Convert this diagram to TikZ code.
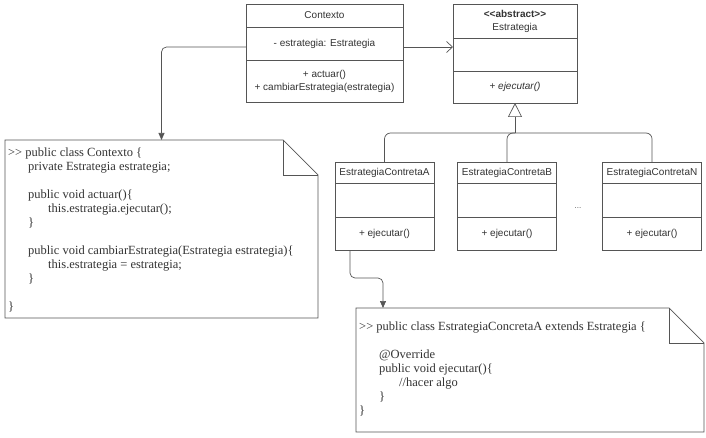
\documentclass[tikz,border=0pt]{standalone}
\usepackage{fontspec}
\setmainfont{Liberation Serif}
\setsansfont{Liberation Sans}
\usetikzlibrary{arrows.meta,positioning}
\definecolor{linegray}{HTML}{555555}
\definecolor{txtgray}{HTML}{333333}

\begin{document}
\begin{tikzpicture}[x=1pt,y=-1pt,
	cls/.style={draw=linegray, line width=0.8pt, fill=white, inner sep=0pt, outer sep=0pt, align=center, text=txtgray, font=\sffamily\fontsize{10}{13}\selectfont},
	note/.style={inner sep=0pt, outer sep=0pt, anchor=north west},
	code/.style={inner sep=0pt, anchor=north west, align=left, text=txtgray, font=\rmfamily\fontsize{12.5}{14}\selectfont},
	line/.style={draw=linegray, line width=0.7pt},
	dep/.style={line, rounded corners=5pt, -{Triangle[length=7pt,width=6pt]}},
	assoc/.style={line, -{Straight Barb[length=6pt,width=11pt]}},
	gen/.style={line, -{Triangle[open,length=14pt,width=14pt,fill=white]}}]

	\useasboundingbox (0,0) rectangle (706,438);

	% clases
	\node[cls, minimum width=157pt, minimum height=23pt, anchor=north] (ctx1) at (324.5,4) {Contexto};
	\node[cls, minimum width=157pt, minimum height=33pt, below=0pt of ctx1] (ctx2) {- estrategia: Estrategia};
	\node[cls, minimum width=157pt, minimum height=42pt, below=0pt of ctx2] (ctx3) {+ actuar()\\+ cambiarEstrategia(estrategia)};

	\node[cls, minimum width=124pt, minimum height=34pt, anchor=north] (est1) at (515,4) {\textbf{<{}<abstract>{}>}\\Estrategia};
	\node[cls, minimum width=124pt, minimum height=33pt, below=0pt of est1] (est2) {};
	\node[cls, minimum width=124pt, minimum height=32pt, below=0pt of est2] (est3) {+ \textit{ejecutar()}};

	\foreach \n/\x in {A/384.5, B/507, N/652}{
		\node[cls, minimum width=99pt, minimum height=21pt, anchor=north] (\n1) at (\x,162) {EstrategiaContreta\n};
		\node[cls, minimum width=99pt, minimum height=34pt, below=0pt of \n1] (\n2) {};
		\node[cls, minimum width=99pt, minimum height=33pt, below=0pt of \n2] (\n3) {+ ejecutar()};
	}
	\node[text=linegray, font=\sffamily\fontsize{8}{8}\selectfont] (dots) at (578,208) {...};

	% notas
	\node[note, minimum width=313pt, minimum height=178pt] (note1) at (5,140) {};
	\node[note, minimum width=348pt, minimum height=124pt] (note2) at (356,308) {};
	\foreach \n in {note1, note2}{
		\draw[line, fill=white] (\n.south west) -- (\n.north west) -- ([xshift=-35pt]\n.north east) -- ([yshift=-35pt]\n.north east) -- (\n.south east) -- cycle;
		\draw[line] ([xshift=-35pt]\n.north east) |- ([yshift=-35pt]\n.north east);
	}
	\node[code] (code1) at ([shift={(3pt,-8pt)}]note1.north west) {>{}> public class Contexto \{\\
		\hspace*{20pt}private Estrategia estrategia;\\[14pt]
		\hspace*{20pt}public void actuar()\{\\
		\hspace*{40pt}this.estrategia.ejecutar();\\
		\hspace*{20pt}\}\\[14pt]
		\hspace*{20pt}public void cambiarEstrategia(Estrategia estrategia)\{\\
		\hspace*{40pt}this.estrategia = estrategia;\\
		\hspace*{20pt}\}\\[14pt]
		\}};
	\node[code] (code2) at ([shift={(3pt,-14pt)}]note2.north west) {>{}> public class EstrategiaConcretaA extends Estrategia \{\\[14pt]
		\hspace*{20pt}@Override\\
		\hspace*{20pt}public void ejecutar()\{\\
		\hspace*{40pt}//hacer algo\\
		\hspace*{20pt}\}\\
		\}};

	% conectores
	\draw[assoc] ([yshift=-3.5pt]ctx2.east) -- ([yshift=-3.5pt]ctx2.east -| est2.west);
	\draw[dep] ([yshift=-3.5pt]ctx2.west) -| (note1.north);
	\coordinate (junc) at (515,133);
	\foreach \n in {A,B,N}
		\draw[line, rounded corners=6pt] (\n1.north) |- (junc);
	\draw[gen] (junc) -- (est3.south);
	\draw[dep] ([xshift=-34.5pt]A3.south) -- ++(0,28) -| ([xshift=27pt]note2.north west);
\end{tikzpicture}
\end{document}
